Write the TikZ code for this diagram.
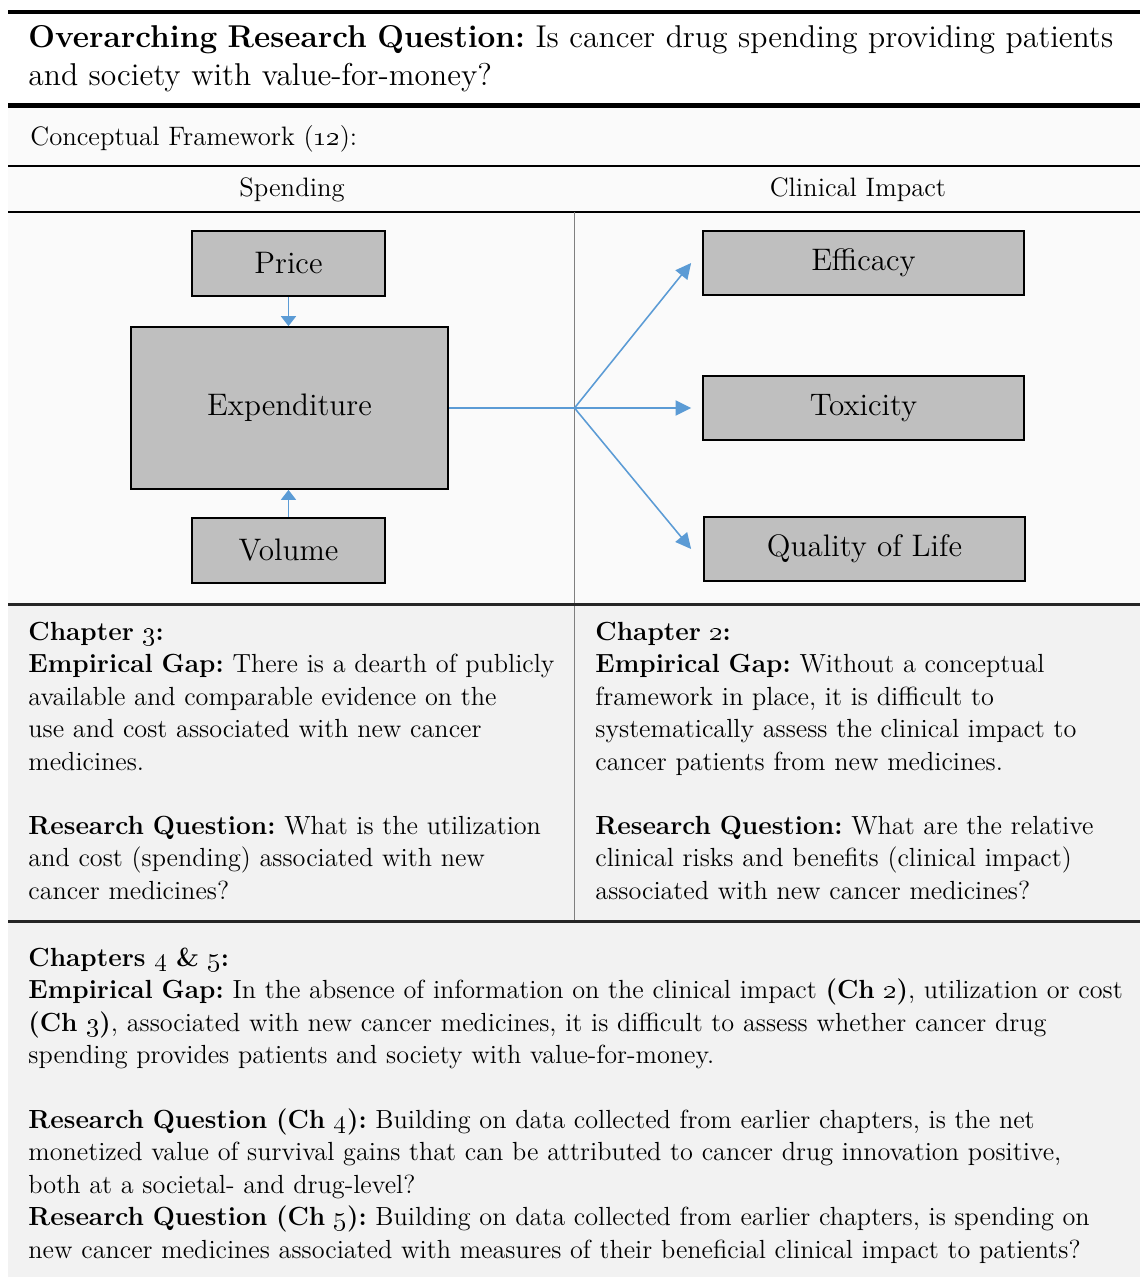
\documentclass[tikz,border=0pt]{standalone}
\usetikzlibrary{arrows.meta}
\definecolor{arrowblue}{HTML}{5B9BD5}
\definecolor{boxgray}{HTML}{BFBFBF}
\definecolor{panel}{HTML}{F2F2F2}
\definecolor{panellight}{HTML}{FAFAFA}
\definecolor{divider}{HTML}{7F7F7F}
\definecolor{rulecol}{HTML}{262626}
\begin{document}
\frenchspacing
\begin{tikzpicture}[x=0.45pt,y=-0.45pt,
  fbox/.style={draw=black, line width=0.8pt, fill=boxgray, inner sep=0pt,
    font=\fontsize{14}{16}\selectfont},
  para/.style={anchor=base west, inner sep=0pt, align=left, text width=560pt,
    font=\fontsize{11.8}{14.625}\selectfont},
  titlepara/.style={anchor=base west, inner sep=0pt, align=left, text width=560pt,
    font=\fontsize{14.2}{17.3}\selectfont},
  headtext/.style={anchor=base, inner sep=0pt, font=\fontsize{12}{14}\selectfont},
  conn/.style={arrowblue, line width=0.7pt, -{Triangle[length=7pt,width=6.8pt]}},
  vconn/.style={arrowblue, line width=0.7pt, -{Triangle[length=4.5pt,width=6.8pt]}},
  plainconn/.style={arrowblue, line width=0.7pt}]
\useasboundingbox (0,0) rectangle (1140,1277);
\fill[white] (0,0) rectangle (1140,1277);
\fill[panellight] (8,106) rectangle (1140,604);
\fill[panel] (8,604) rectangle (1140,1277);
% rules
\draw[line width=1.8pt] (8,11.5) -- (1140,11.5);
\draw[line width=2.25pt] (8,105.5) -- (1140,105.5);
\draw[line width=0.9pt] (8,165.5) -- (1140,165.5);
\draw[line width=1.1pt] (8,212) -- (1140,212);
\draw[divider, line width=0.7pt] (574.5,212) -- (574.5,920);
\draw[rulecol, line width=1.05pt] (8,604.5) -- (1140,604.5);
\draw[rulecol, line width=1.2pt] (8,921.3) -- (1140,921.3);
% title
\node[titlepara] (title) at (28,47) {\textbf{Overarching Research Question:} Is cancer drug spending providing patients\\
and society with value-for-money?};
% header
\node[headtext, anchor=base west] (cf) at (30,145) {Conceptual Framework (\oldstylenums{12}):};
\node[headtext] (spend) at (292,196) {Spending};
\node[headtext] (clin) at (858,196) {Clinical Impact};
% boxes
\node[fbox, minimum width=86.85pt, minimum height=29.25pt] (price) at (288.5,263.5) {Price};
\node[fbox, minimum width=142.65pt, minimum height=72.9pt] (exp) at (289.5,408) {Expenditure};
\node[fbox, minimum width=86.85pt, minimum height=29.25pt] (vol) at (288.5,550.5) {Volume};
\node[fbox, minimum width=144.45pt, minimum height=28.8pt] (eff) at (863.5,263) {Efficacy};
\node[fbox, minimum width=144.45pt, minimum height=28.8pt] (tox) at (863.5,408) {Toxicity};
\node[fbox, minimum width=144.45pt, minimum height=28.8pt] (qol) at (864.5,549) {Quality of Life};
% connectors
\coordinate (jn) at (574.5,408);
\draw[vconn] (price.south) -- (price.south |- exp.north);
\draw[vconn] (vol.north) -- (vol.north |- exp.south);
\draw[plainconn] (exp.east) -- (jn);
\draw[conn] (jn) -- ([xshift=-4.95pt]eff.west);
\draw[conn] (jn) -- ([xshift=-4.95pt]tox.west);
\draw[conn] (jn) -- ([xshift=-5.4pt]qol.west);
% chapter 3
\node[para] (c3gap) at (28,640) {\textbf{Chapter \oldstylenums{3}:}\\
\textbf{Empirical Gap:} There is a dearth of publicly\\
available and comparable evidence on the\\
use and cost associated with new cancer\\
medicines.};
\node[para] (c3rq) at (28,834) {\textbf{Research Question:} What is the utilization\\
and cost (spending) associated with new\\
cancer medicines?};
% chapter 2
\node[para] (c2gap) at (595,640) {\textbf{Chapter \oldstylenums{2}:}\\
\textbf{Empirical Gap:} Without a conceptual\\
framework in place, it is difficult to\\
systematically assess the clinical impact to\\
cancer patients from new medicines.};
\node[para] (c2rq) at (595,834) {\textbf{Research Question:} What are the relative\\
clinical risks and benefits (clinical impact)\\
associated with new cancer medicines?};
% chapters 4 & 5
\node[para] (c45gap) at (28,966) {\textbf{Chapters \oldstylenums{4} \& \oldstylenums{5}:}\\
\textbf{Empirical Gap:} In the absence of information on the clinical impact \textbf{(Ch \oldstylenums{2})}, utilization or cost\\
\textbf{(Ch \oldstylenums{3})}, associated with new cancer medicines, it is difficult to assess whether cancer drug\\
spending provides patients and society with value-for-money.};
\node[para] (c45rq) at (28,1128) {\textbf{Research Question (Ch \oldstylenums{4}):} Building on data collected from earlier chapters, is the net\\
monetized value of survival gains that can be attributed to cancer drug innovation positive,\\
both at a societal- and drug-level?\\
\textbf{Research Question (Ch \oldstylenums{5}):} Building on data collected from earlier chapters, is spending on\\
new cancer medicines associated with measures of their beneficial clinical impact to patients?};
\end{tikzpicture}
\end{document}
